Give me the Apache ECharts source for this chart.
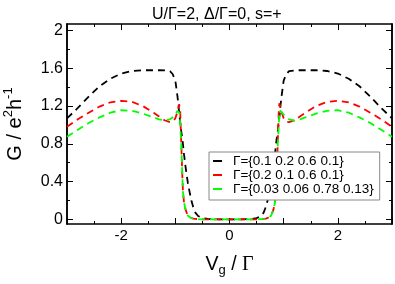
<!DOCTYPE html>
<html><head><meta charset="utf-8">
<script src="https://cdn.jsdelivr.net/npm/echarts@6/dist/echarts.min.js"></script>
<style>html,body{margin:0;padding:0;background:#fff}#c{width:395px;height:284px}</style>
</head><body><div id="c"></div>
<script>
const vg = [-3,-2.8,-2.6,-2.4,-2.2,-2,-1.8,-1.6,-1.4,-1.3,-1.2,-1.1,-1.05,-1,-0.96,-0.94,-0.93,-0.92,-0.91,-0.89,-0.87,-0.86,-0.84,-0.81,-0.77,-0.73,-0.7,-0.67,-0.63,-0.58,-0.5,-0.4,-0.2,0,
  0.2,0.4,0.5,0.58,0.63,0.67,0.7,0.73,0.77,0.81,0.84,0.86,0.87,0.89,0.91,0.92,0.93,0.94,0.96,1,1.05,1.1,1.2,1.3,1.4,1.6,1.8,2,2.2,2.4,2.6,2.8,3];
const gBlack = [1.07,1.18,1.30,1.41,1.49,1.545,1.572,1.58,1.58,1.58,1.578,1.57,1.54,1.47,1.30,1.20,1.13,1.08,1.03,0.93,0.85,0.80,0.69,0.55,0.39,0.27,0.19,0.13,0.07,0.035,0.012,0.003,0,0,
  0,0.003,0.012,0.035,0.07,0.13,0.19,0.27,0.39,0.55,0.69,0.80,0.85,0.93,1.03,1.08,1.13,1.20,1.30,1.47,1.54,1.57,1.578,1.58,1.58,1.58,1.572,1.545,1.49,1.41,1.30,1.18,1.07];
const gRed = [0.98,1.06,1.13,1.195,1.24,1.255,1.245,1.20,1.13,1.09,1.05,1.03,1.035,1.07,1.14,1.19,1.22,1.23,1.15,0.80,0.45,0.30,0.18,0.10,0.04,0.02,0.012,0.007,0.004,0.002,0,0,0,0,
  0,0,0,0.002,0.004,0.007,0.012,0.02,0.04,0.10,0.18,0.30,0.45,0.80,1.15,1.23,1.22,1.19,1.14,1.07,1.035,1.03,1.05,1.09,1.13,1.20,1.245,1.255,1.24,1.195,1.13,1.06,0.98];
const gGreen = [0.875,0.95,1.02,1.08,1.13,1.156,1.15,1.12,1.08,1.06,1.047,1.06,1.08,1.11,1.15,1.16,1.155,1.12,1.0,0.78,0.45,0.30,0.18,0.10,0.04,0.02,0.012,0.007,0.004,0.002,0,0,0,0,
  0,0,0,0.002,0.004,0.007,0.012,0.02,0.04,0.10,0.18,0.30,0.45,0.78,1.0,1.12,1.155,1.16,1.15,1.11,1.08,1.06,1.047,1.06,1.08,1.12,1.15,1.156,1.13,1.08,1.02,0.95,0.875];
const seriesNames = ['Γ={0.1 0.2 0.6 0.1}','Γ={0.2 0.1 0.6 0.1}','Γ={0.03 0.06 0.78 0.13}'];
const yMajor = [0,0.4,0.8,1.2,1.6,2];
const yMinor = [0.2,0.6,1.0,1.4,1.8];
const xLabels = [-2,0,2];

const FONT = '"Liberation Sans", Arial, sans-serif';
const pair = (xs, ys) => xs.map((x,i)=>[x, ys[i]]);
const lineCol = '#000';
function xAx(pos, labels){
  return {type:'value', position:pos, min:-3, max:3, interval:1,
    axisLine:{show:true, onZero:false, lineStyle:{color:lineCol,width:1.5}},
    axisTick:{show:true, inside:true, length:6, lineStyle:{color:lineCol,width:1}},
    minorTick:{show:true, splitNumber:2, length:3, lineStyle:{color:lineCol,width:1}},
    splitLine:{show:false}, minorSplitLine:{show:false},
    axisLabel:{show:labels, color:'#000', fontSize:15, fontFamily:FONT, margin:4,
      formatter:v=> xLabels.indexOf(v)>=0 ? String(v) : ''},
  };
}
function yAx(pos, vals, len, labels){
  return {type:'value', position:pos, min:-0.05, max:2.07,
    axisLine:{show:true, onZero:false, lineStyle:{color:lineCol,width:1.5}},
    axisTick:{show:true, inside:true, length:len, customValues:vals, lineStyle:{color:lineCol,width:1}},
    splitLine:{show:false},
    axisLabel:{show:labels, customValues:vals, color:'#000', fontSize:16, fontFamily:FONT, margin:4,
      formatter:v=> String(Math.round(v*10)/10)},
  };
}
const xa0 = xAx('bottom', true);
xa0.name = '{a|V}{sub|g}{a| / }{g|Γ}';
xa0.nameLocation = 'middle';
xa0.nameGap = 29;
xa0.nameTextStyle = {rich:{
  a:{fontSize:19.5, fontFamily:FONT, color:'#000'},
  sub:{fontSize:13, fontFamily:FONT, color:'#000', padding:[11,0,0,0]},
  g:{fontSize:20, fontFamily:'"Liberation Serif", serif', color:'#000'}
}};
const ya0 = yAx('left', yMajor, 6, true);
ya0.name = '{a|G / e}{sup|2}{a|h}{sup|-1}';
ya0.nameLocation = 'middle';
ya0.nameGap = 39;
ya0.nameTextStyle = {rich:{
  a:{fontSize:20, fontFamily:FONT, color:'#000'},
  sup:{fontSize:13, fontFamily:FONT, color:'#000', padding:[0,0,13,0]}
}};

const chart = echarts.init(document.getElementById('c'));
chart.setOption({
  animation:false,
  backgroundColor:'#fff',
  title:{text:'U/Γ=2, Δ/Γ=0, s=+', left:147, top:2,
    textStyle:{fontSize:16, fontWeight:'normal', color:'#000', fontFamily:FONT}},
  grid:{left:67, right:3, top:24, bottom:60, containLabel:false, outerBoundsMode:'none'},
  legend:{orient:'vertical', left:209, top:152, itemWidth:9, itemHeight:2, itemGap:0,
    icon:'rect', borderColor:'#888', borderWidth:1, backgroundColor:'#fff',
    padding:[2,6,4,4], borderRadius:0,
    textStyle:{fontSize:13.5, lineHeight:14, fontFamily:FONT, color:'#000', padding:[0,0,0,6]},
    data:seriesNames},
  xAxis:[xa0, xAx('top', false)],
  yAxis:[ya0, yAx('left', yMinor, 3, false), yAx('right', yMajor, 6, false), yAx('right', yMinor, 3, false)],
  series:[
    {name:seriesNames[0], type:'line', data:pair(vg,gBlack), showSymbol:false, color:'#000',
      lineStyle:{color:'#000', width:1.8, type:[7,5]}},
    {name:seriesNames[1], type:'line', data:pair(vg,gRed), showSymbol:false, color:'#ff0000',
      lineStyle:{color:'#ff0000', width:1.8, type:[7,5]}},
    {name:seriesNames[2], type:'line', data:pair(vg,gGreen), showSymbol:false, color:'#00ff00',
      lineStyle:{color:'#00ff00', width:1.8, type:[7,5]}}
  ]
});
</script></body></html>
